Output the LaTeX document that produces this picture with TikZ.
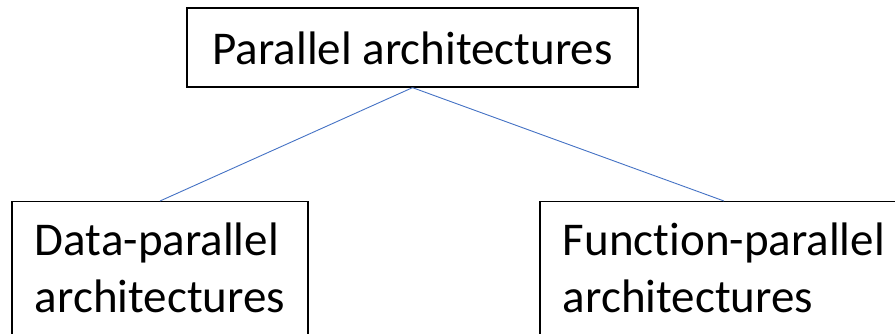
\documentclass[tikz,border=0pt]{standalone}
\usepackage{fontspec}
\setmainfont{Carlito}[Ligatures=NoCommon]
\definecolor{linkblue}{HTML}{4472C4}
\begin{document}
\begin{tikzpicture}[x=1pt,y=-1pt,
  box/.style={draw=black,line width=1.3pt,fill=white,
    font=\fontsize{47}{57}\selectfont,inner xsep=0pt},
  link/.style={draw=linkblue,line width=0.9pt}]
  \useasboundingbox (0,0) rectangle (895,333);
  \clip (0,0) rectangle (895,333);
  % root category
  \node[box,minimum width=451pt,minimum height=79pt,inner ysep=0pt,
        text height=33pt,text depth=0pt] (top) at (412.5,47.5) {Parallel architectures};
  % two subcategories, running past the lower and right edges
  \node[box,align=left,anchor=north,minimum width=296pt,inner ysep=21pt,
        text height=90pt,text depth=60pt] (dp) at (160,201) {Data-parallel\\architectures};
  \node[box,align=left,anchor=north,minimum width=368pt,inner ysep=21pt,
        text height=90pt,text depth=60pt] (fp) at (724,201) {Function-parallel\\architectures};
  \draw[link] (top.south) -- (dp.north);
  \draw[link] (top.south) -- (fp.north);
\end{tikzpicture}
\end{document}
